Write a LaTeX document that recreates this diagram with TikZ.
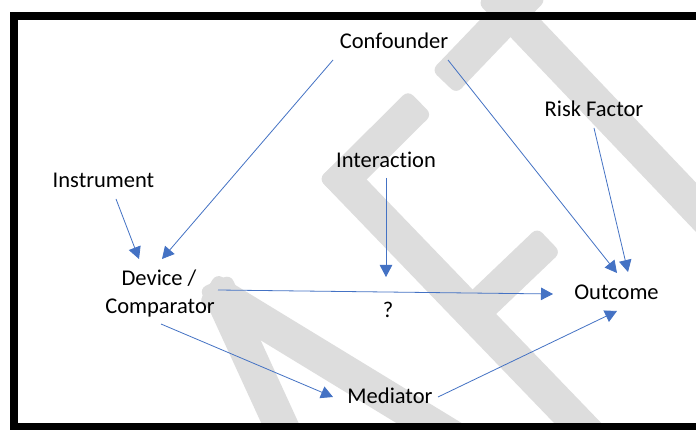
\documentclass[tikz,border=0pt]{standalone}
\usepackage{fontspec}
\setmainfont{Carlito}[Ligatures={NoCommon,NoRare}]
\usetikzlibrary{calc,arrows.meta}
\definecolor{wmgray}{RGB}{221,221,221}
\definecolor{linkblue}{RGB}{68,114,196}
\tikzset{
  wm/.style={fill=wmgray},
  lbl/.style={anchor=base, inner sep=0pt, font=\fontsize{22.5}{27}\selectfont},
  link/.style={draw=linkblue, line width=0.8pt,
    -{Triangle[length=12pt,width=12.5pt,fill=linkblue]}},
  frame/.style={draw=black, line width=8.3pt}
}
% one straight watermark stroke between two end points, 34pt wide
\newcommand\wmband[2]{%
  \fill[wm, rounded corners=7pt]
    ($(#1)!17pt!90:(#2)$) -- ($(#2)!17pt!-90:(#1)$) --
    ($(#2)!17pt!90:(#1)$) -- ($(#1)!17pt!-90:(#2)$) -- cycle;}
\begin{document}
\begin{tikzpicture}[x=1pt,y=-1pt]
\useasboundingbox (0,0) rectangle (696,430);
\clip (0,0) rectangle (696,430);
\fill[white] (0,0) rectangle (696,430);

% background watermark strokes
\wmband{215,281.5}{290,445}
\wmband{207.5,288}{470,448}
\wmband{420,102.5}{331,191}
\wmband{331,167}{620,467}
\wmband{549,240}{472,313.5}
\wmband{444,82}{534,-12}
\wmband{490,-9}{720,232.5}

% frame
\draw[frame] (14.2,15.8) rectangle (712,427.2);

% labels
\node[lbl] (conf)  at (394,49)    {Confounder};
\node[lbl] (risk)  at (594,117)   {Risk Factor};
\node[lbl] (inter) at (386,168)   {Interaction};
\node[lbl] (instr) at (103.5,188) {Instrument};
\node[lbl] (dev)   at (159,286)   {Device /};
\node[lbl] (comp)  at (160,313)   {Comparator};
\node[lbl] (q)     at (388,317)   {?};
\node[lbl] (out)   at (616.5,300) {Outcome};
\node[lbl] (med)   at (390,403)   {Mediator};

% connectors
\draw[link] ([shift={(-61,11)}]conf.base)  -- ([shift={(3,-27)}]dev.base);
\draw[link] ([shift={(12.5,11)}]instr.base) -- ([shift={(-20,-27)}]dev.base);
\draw[link] ([shift={(0,10)}]inter.base)   -- ([shift={(-2,-40)}]q.base);
\draw[link] ([shift={(58,-23)}]comp.base)  -- ([shift={(-63.5,-6)}]out.base);
\draw[link] ([shift={(1,11)}]comp.base)    -- ([shift={(-57,-6)}]med.base);
\draw[link] ([shift={(48,-6)}]med.base)    -- ([shift={(0.5,11)}]out.base);
\draw[link] ([shift={(54,11)}]conf.base)   -- ([shift={(0.5,-27)}]out.base);
\draw[link] ([shift={(0,11)}]risk.base)    -- ([shift={(11.5,-28)}]out.base);
\end{tikzpicture}
\end{document}
